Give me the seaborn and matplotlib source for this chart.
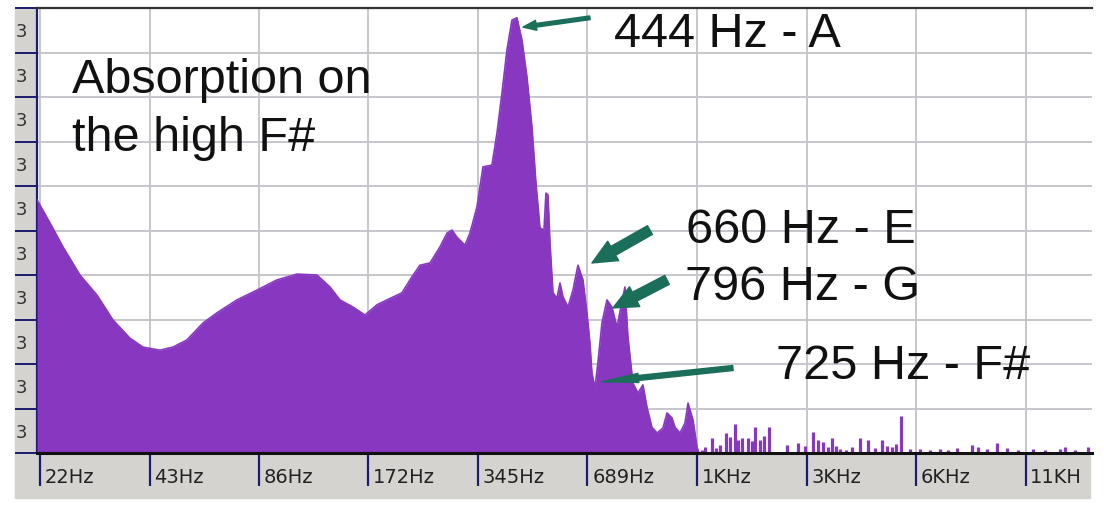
import matplotlib
matplotlib.use("Agg")
import matplotlib.pyplot as plt
from matplotlib.patches import Rectangle
import seaborn as sns
import pandas as pd

# absorption spectrum (Hz, level in grid units 0..10)
freq_hz = [21.13, 22.94, 24.91, 27.73, 30.88, 34.17, 38.06, 41.32, 46.02, 49.96,
           54.59, 60.41, 66.01, 74.91, 85.02, 96.51, 109.5, 124.3, 135.0, 143.8,
           156.1, 168.5, 181.7, 193.6, 212.9, 226.9, 238.6, 254.2, 270.8, 283.1,
           292.2, 301.6, 317.2, 327.4, 342.3, 355.6, 376.4, 388.5, 401.0, 413.9,
           427.2, 440.9, 455.1, 469.7, 484.8, 497.2, 510.0, 523.1, 529.7, 536.5,
           543.4, 553.8, 568.0, 578.9, 590.0, 609.0, 628.5, 648.7, 669.5, 686.7,
           699.8, 708.7, 722.3, 736.2, 755.1, 779.4, 804.4, 830.2, 846.1, 873.3,
           890.1, 918.7, 948.2, 978.9, 1004, 1036, 1070, 1111, 1140, 1176,
           1199, 1237, 1277, 1302, 1344, 1378, 1396]
level = [5.69, 5.17, 4.63, 4.00, 3.55, 2.99, 2.58, 2.38, 2.31, 2.38,
         2.54, 2.92, 3.15, 3.44, 3.66, 3.89, 4.02, 4.00, 3.73, 3.44,
         3.28, 3.10, 3.33, 3.44, 3.60, 3.96, 4.22, 4.27, 4.63, 4.94,
         5.01, 4.85, 4.67, 4.94, 5.53, 6.43, 6.47, 7.19, 8.09, 9.06,
         9.73, 9.78, 9.28, 8.45, 7.33, 6.07, 5.06, 5.01, 5.84, 5.80,
         4.72, 3.60, 3.48, 3.82, 3.51, 3.28, 3.66, 4.22, 3.89, 3.15,
         2.47, 1.80, 1.46, 2.04, 2.92, 3.44, 3.28, 2.83, 3.17, 3.73,
         2.61, 1.57, 1.35, 1.53, 1.03, 0.58, 0.45, 0.56, 0.90, 0.79,
         0.58, 0.45, 0.67, 1.12, 0.74, 0.13, 0.0]

# small isolated peaks above 1.4 kHz
spike_hz = [1422, 1449, 1515, 1554, 1594, 1656, 1698, 1753, 1786, 1832,
            1903, 1952, 1989, 2053, 2105, 2174, 2436, 2611, 2730, 2872,
            2964, 3059, 3157, 3238, 3321, 3406, 3538, 3675, 3867, 4068,
            4251, 4444, 4587, 4735, 4856, 5012, 5305, 5652, 6023, 6417,
            6750, 7144, 7857, 8160, 8638, 9203, 9804, 10511, 11557, 12469,
            13713, 14155, 15078, 16374]
spike_level = [0.07, 0.13, 0.34, 0.11, 0.18, 0.45, 0.36, 0.65, 0.29, 0.34,
               0.34, 0.27, 0.58, 0.29, 0.38, 0.58, 0.18, 0.22, 0.16, 0.47,
               0.29, 0.25, 0.13, 0.34, 0.16, 0.09, 0.07, 0.13, 0.34, 0.29,
               0.11, 0.29, 0.16, 0.13, 0.20, 0.83, 0.09, 0.09, 0.07, 0.09,
               0.07, 0.11, 0.18, 0.13, 0.09, 0.22, 0.11, 0.07, 0.09, 0.07,
               0.09, 0.13, 0.07, 0.13]

tick_hz = [21.53, 43.07, 86.13, 172.27, 344.53, 689.06, 1378.1, 2756.3, 5512.5, 11025.0]
tick_labels = ["22Hz", "43Hz", "86Hz", "172Hz", "345Hz", "689Hz", "1KHz", "3KHz", "6KHz", "11KH"]

PURPLE = "#8838C0"
TEAL = "#1B6E5A"
NAVY = "#1C1C6E"
PANEL = "#D4D3D0"
GRID = "#C6C6CC"

sns.set_style("white")
plt.rcParams["font.family"] = ["Liberation Sans", "DejaVu Sans"]

W, H = 1104, 509
fig = plt.figure(figsize=(W / 100, H / 100), dpi=100)
ax = fig.add_axes([37 / W, 1 - 453 / H, 1055 / W, 445 / H])

# grey frame strips like the analyser window
fig.patches.append(Rectangle((15 / W, 1 - 455 / H), 22 / W, 447 / H,
                             transform=fig.transFigure, color=PANEL, zorder=-5))
fig.patches.append(Rectangle((15 / W, 1 - 498 / H), 1075 / W, 43 / H,
                             transform=fig.transFigure, color=PANEL, zorder=-5))

df = pd.DataFrame({"freq": freq_hz, "level": level})
ax.fill_between(df["freq"], 0, df["level"], color=PURPLE, lw=0, zorder=3)
sns.lineplot(data=df, x="freq", y="level", color=PURPLE, lw=1.2, ax=ax,
             estimator=None, sort=False, zorder=3)
ax.vlines(spike_hz, 0, spike_level, color=PURPLE, lw=2.3, zorder=3)

ax.set_xscale("log", base=2)
ax.set_xlim(21.13, 16795)
ax.set_ylim(0, 10)
ax.set_xlabel("")
ax.set_ylabel("")

ax.set_xticks(tick_hz)
ax.set_xticklabels([])
ax.xaxis.set_minor_locator(matplotlib.ticker.NullLocator())
ax.tick_params(axis="x", bottom=True, direction="out", length=24, width=1.6, color=NAVY)
# labels sit to the right of each tick mark
for f, s in zip(tick_hz, tick_labels):
    ax.annotate(s, xy=(f, 0), xycoords=("data", "axes fraction"),
                xytext=(3.5, -21.5), textcoords="offset points",
                ha="left", va="baseline", family="DejaVu Sans",
                fontsize=14, color="#222222", annotation_clip=False)

ax.set_yticks(range(0, 11))
ax.set_yticks([k + 0.5 for k in range(10)], minor=True)
ax.set_yticklabels([], minor=False)
ax.set_yticklabels(["3"] * 10, minor=True, family="DejaVu Sans", fontsize=13, color="#333333")
ax.tick_params(axis="y", which="major", left=True, direction="out", length=16, width=1.4, color=NAVY)
ax.tick_params(axis="y", which="minor", left=True, length=0, pad=7)

ax.grid(True, which="major", color=GRID, lw=1.4, zorder=0)
ax.set_axisbelow(True)

for side in ["top", "left", "bottom"]:
    ax.spines[side].set_visible(True)
ax.spines["right"].set_visible(False)
ax.spines["top"].set_color("#333333")
ax.spines["top"].set_linewidth(1.6)
ax.spines["left"].set_color(NAVY)
ax.spines["left"].set_linewidth(1.6)
ax.spines["bottom"].set_color("#111111")
ax.spines["bottom"].set_linewidth(2.2)
ax.spines["bottom"].set_zorder(5)

# annotation arrows pointing at the resonances
thin = dict(arrowstyle="simple,head_length=0.8,head_width=0.6,tail_width=0.22",
            mutation_scale=12, color=TEAL, shrinkA=0, shrinkB=0)
thick = dict(arrowstyle="simple,head_length=1.1,head_width=1.0,tail_width=0.45",
             mutation_scale=16, color=TEAL, shrinkA=0, shrinkB=0)
long_ = dict(arrowstyle="simple,head_length=2.2,head_width=0.55,tail_width=0.3",
             mutation_scale=12, color=TEAL, shrinkA=0, shrinkB=0)
ax.annotate("", xy=(458.0, 9.57), xytext=(699.8, 9.78), arrowprops=thin, zorder=6)
ax.annotate("", xy=(708.7, 4.27), xytext=(1023, 5.01), arrowprops=thick, zorder=6)
ax.annotate("", xy=(809.5, 3.26), xytext=(1140, 3.89), arrowprops=thick, zorder=6)
ax.annotate("", xy=(755.1, 1.60), xytext=(1730, 1.91), arrowprops=long_, zorder=6)

def label(px, py, s):
    fig.text(px / W, 1 - py / H, s, fontsize=35, color="#111111",
             ha="left", va="baseline", zorder=10)

label(614, 47, "444 Hz - A")
label(72, 93, "Absorption on")
label(72, 151, "the high F#")
label(686, 243, "660 Hz - E")
label(685, 300, "796 Hz - G")
label(776, 379, "725 Hz - F#")

fig.savefig("out.png", dpi=100)
